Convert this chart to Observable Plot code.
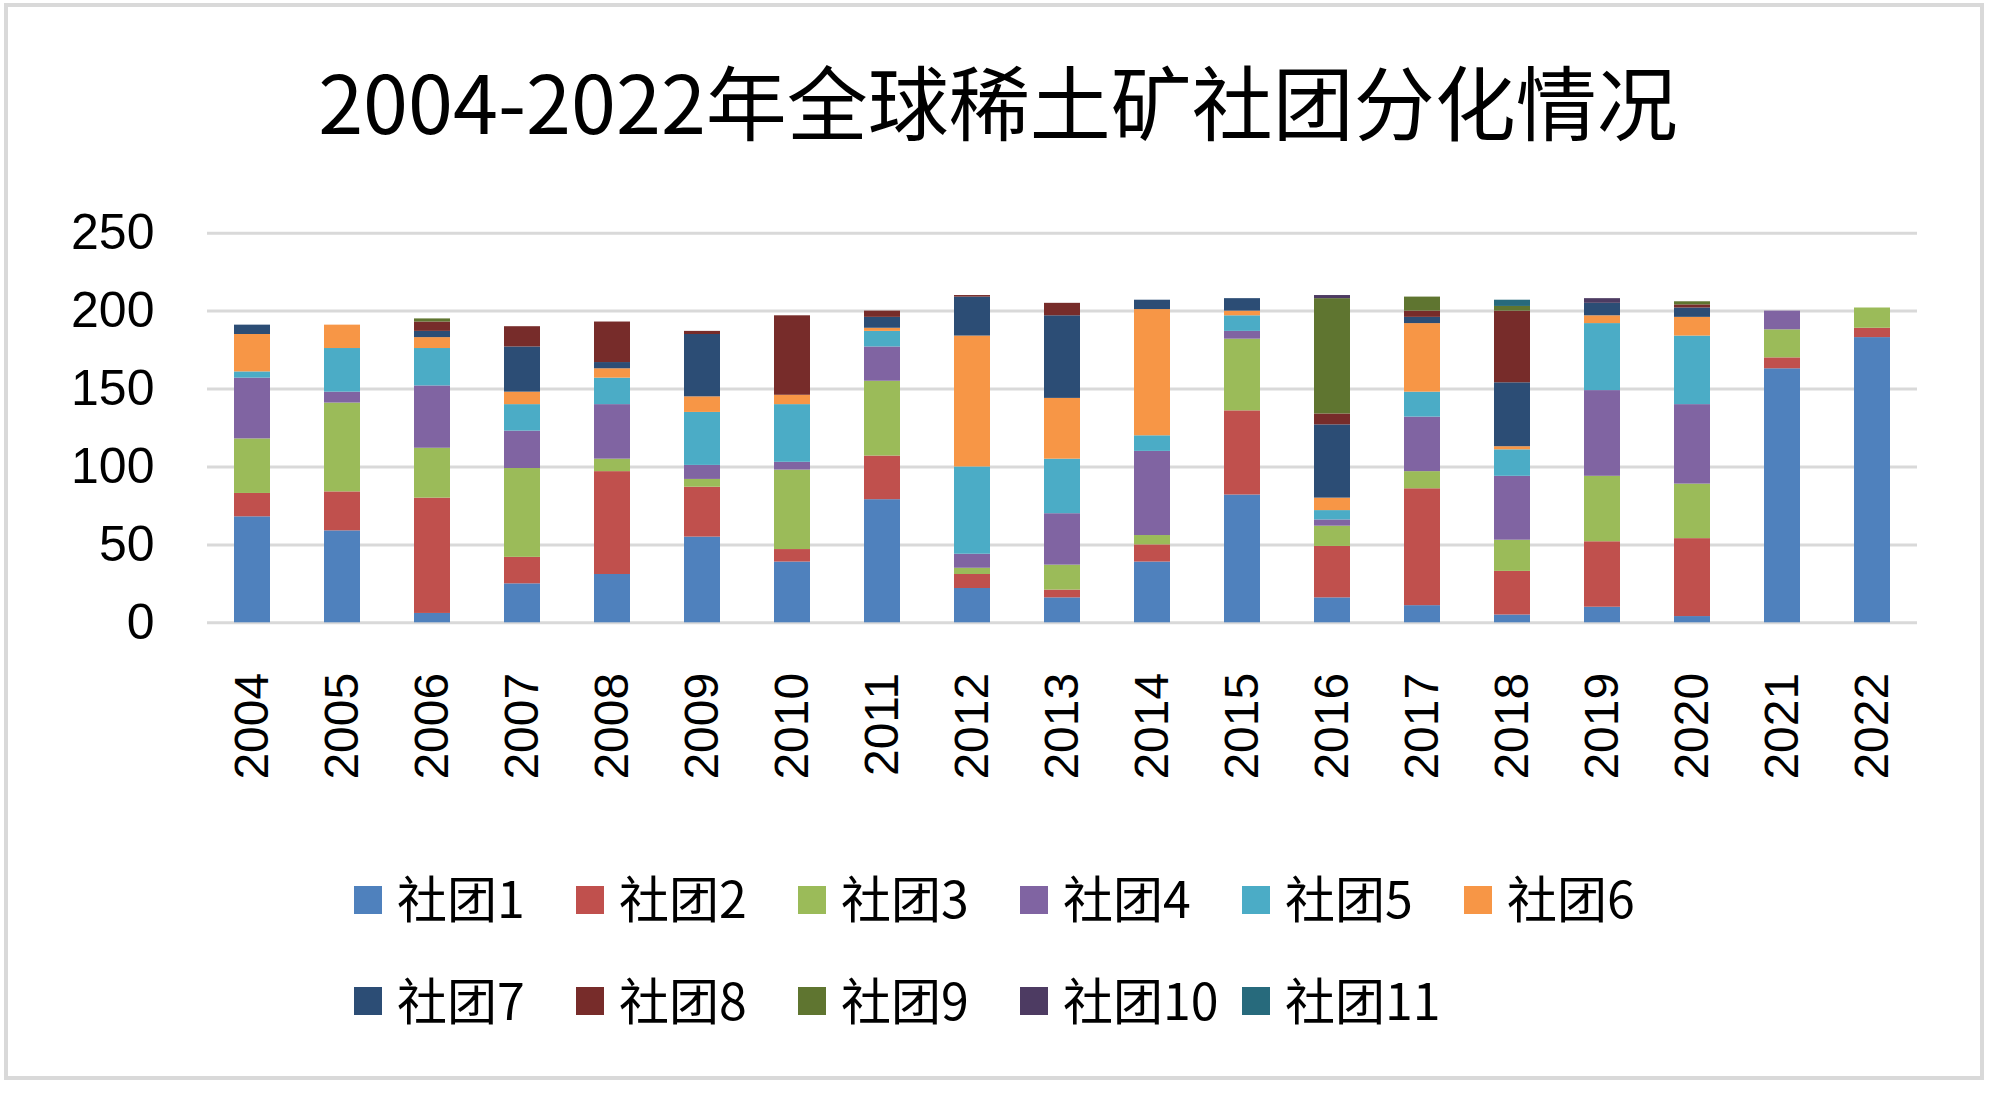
<!DOCTYPE html>
<html><head><meta charset="utf-8">
<script src="https://cdn.jsdelivr.net/npm/d3@7"></script>
<script src="https://cdn.jsdelivr.net/npm/@observablehq/plot@0.6"></script>
<style>
html,body{margin:0;padding:0;background:#fff;}
#wrap{position:relative;width:2000px;height:1094px;overflow:hidden;background:#fff;}
#chart{position:absolute;left:0;top:0;}
#overlay{position:absolute;left:0;top:0;}
#frame{position:absolute;left:4px;top:3px;width:1980px;height:1077px;border:4px solid #d9d9d9;box-sizing:border-box;pointer-events:none;}
</style></head><body>
<div id="wrap"><div id="chart"></div><svg id="overlay" width="2000" height="1094"></svg><div id="frame"></div></div>
<script>
const title = "2004-2022年全球稀土矿社团分化情况";
const years = ["2004","2005","2006","2007","2008","2009","2010","2011","2012","2013","2014","2015","2016","2017","2018","2019","2020","2021","2022"];
const groups = ["社团1","社团2","社团3","社团4","社团5","社团6","社团7","社团8","社团9","社团10","社团11"];
const colors = ["#4F81BD","#C0504D","#9BBB59","#8064A2","#4BACC6","#F79646","#2C4D75","#772C2A","#5F7530","#4D3B62","#276A7C"];
const yTicks = [0,50,100,150,200,250];

const s1  = [68,59,6,25,31,55,39,79,22,16,39,82,16,11,5,10,4,163,183];
const s2  = [15,25,74,17,66,32,8,28,9,5,11,54,33,75,28,42,50,7,6];
const s3  = [35,57,32,57,8,5,51,48,4,16,6,46,13,11,20,42,35,18,13];
const s4  = [39,7,40,24,35,9,5,22,9,33,54,5,4,35,41,55,51,12,0];
const s5  = [4,28,24,17,17,34,37,10,56,35,10,10,6,16,17,43,44,0,0];
const s6  = [24,15,7,8,6,10,6,2,84,39,81,3,8,44,2,5,12,0,0];
const s7  = [6,0,4,29,4,40,0,7,25,53,6,8,47,4,41,8,6,0,0];
const s8  = [0,0,6,13,26,2,51,4,1,8,0,0,7,4,46,0,2,0,0];
const s9  = [0,0,2,0,0,0,0,0,0,0,0,0,74,9,3,0,2,0,0];
const s10 = [0,0,0,0,0,0,0,0,0,0,0,0,2,0,0,3,0,0,0];
const s11 = [0,0,0,0,0,0,0,0,0,0,0,0,0,0,4,0,0,0,0];
const seriesValues = [s1,s2,s3,s4,s5,s6,s7,s8,s9,s10,s11];

const table = [];
years.forEach((yr, i) => {
  seriesValues.forEach((arr, k) => {
    table.push({year: yr, group: groups[k], value: arr[i]});
  });
});

const chart = Plot.plot({
  width: 2000,
  height: 800,
  marginLeft: 207,
  marginRight: 83,
  marginTop: 232.7,
  marginBottom: 177.7,
  x: {type: "band", domain: years, paddingInner: 0.6, paddingOuter: 0.3, label: null},
  y: {domain: [0, 250], label: null},
  color: {domain: groups, range: colors},
  style: {fontFamily: "'Liberation Sans', Arial, sans-serif", color: "#000", background: "transparent", overflow: "visible"},
  marks: [
    Plot.ruleY(yTicks, {stroke: "#d9d9d9", strokeWidth: 3}),
    Plot.barY(table, {x: "year", y: "value", fill: "group"}),
    Plot.axisY({ticks: yTicks, tickSize: 0, tickPadding: 53, fontSize: 50, label: null}),
    Plot.axisX({tickSize: 0, tickRotate: -90, tickPadding: 50, fontSize: 48, label: null})
  ]
});
document.getElementById("chart").appendChild(chart);

// title and legend
const svg = d3.select("#overlay");
svg.append("text")
  .attr("x", 998).attr("y", 134)
  .attr("text-anchor", "middle")
  .attr("font-family", "'Noto Sans CJK SC', sans-serif")
  .attr("font-size", 81)
  .attr("fill", "#000")
  .text(title);

groups.forEach((g, i) => {
  const col = i % 6, row = Math.floor(i / 6);
  const x0 = 354 + col * 222;
  svg.append("rect")
    .attr("x", x0).attr("y", row ? 987 : 886)
    .attr("width", 28).attr("height", 28)
    .attr("fill", colors[i]);
  svg.append("text")
    .attr("x", x0 + 43).attr("y", row ? 1020 : 918)
    .attr("font-family", "'Noto Sans CJK SC', sans-serif")
    .attr("font-size", 50)
    .attr("fill", "#000")
    .text(g);
});
</script>
</body></html>
